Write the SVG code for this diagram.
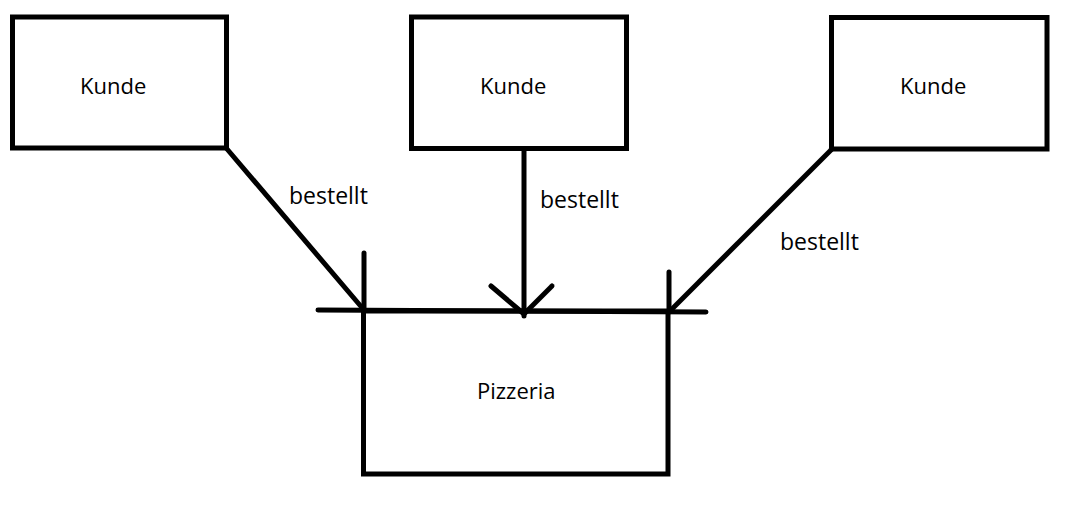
<svg xmlns="http://www.w3.org/2000/svg" width="1065" height="517" viewBox="0 0 1065 517">
<style>
.box{fill:none;stroke:#000;stroke-width:5}
.ln{fill:none;stroke:#000;stroke-width:5;stroke-linecap:round}
.t{font-family:"Open Sans","Noto Sans",sans-serif;font-size:22px;fill:#000}
.lb{font-size:23px}
</style>
<rect width="1065" height="517" fill="#fff"/>
<g id="kunde1"><rect class="box" x="12.5" y="17" width="214" height="131"/><text class="t" x="80" y="93.5">Kunde</text></g>
<g id="kunde2"><rect class="box" x="411.5" y="17" width="215" height="131.5"/><text class="t" x="480" y="94">Kunde</text></g>
<g id="kunde3"><rect class="box" x="831.5" y="17.5" width="215.5" height="131.5"/><text class="t" x="900" y="94">Kunde</text></g>
<g id="pizzeria"><rect class="box" x="363.5" y="311" width="304.5" height="163"/><text class="t" x="477" y="399">Pizzeria</text></g>
<g id="connectors">
<line class="ln" x1="318" y1="310" x2="706" y2="312"/>
<line class="ln" x1="364" y1="253" x2="364" y2="311"/>
<line class="ln" x1="669" y1="272" x2="669" y2="312"/>
<line class="ln" x1="227" y1="149" x2="364" y2="310"/>
<line class="ln" x1="524" y1="150" x2="524" y2="316"/>
<line class="ln" x1="491" y1="286" x2="524" y2="314"/>
<line class="ln" x1="552" y1="286" x2="524" y2="314"/>
<line class="ln" x1="831" y1="150" x2="670" y2="311"/>
</g>
<g id="labels">
<text class="t lb" x="289" y="203.5">bestellt</text>
<text class="t lb" x="540" y="207.5">bestellt</text>
<text class="t lb" x="780" y="250">bestellt</text>
</g>
</svg>
